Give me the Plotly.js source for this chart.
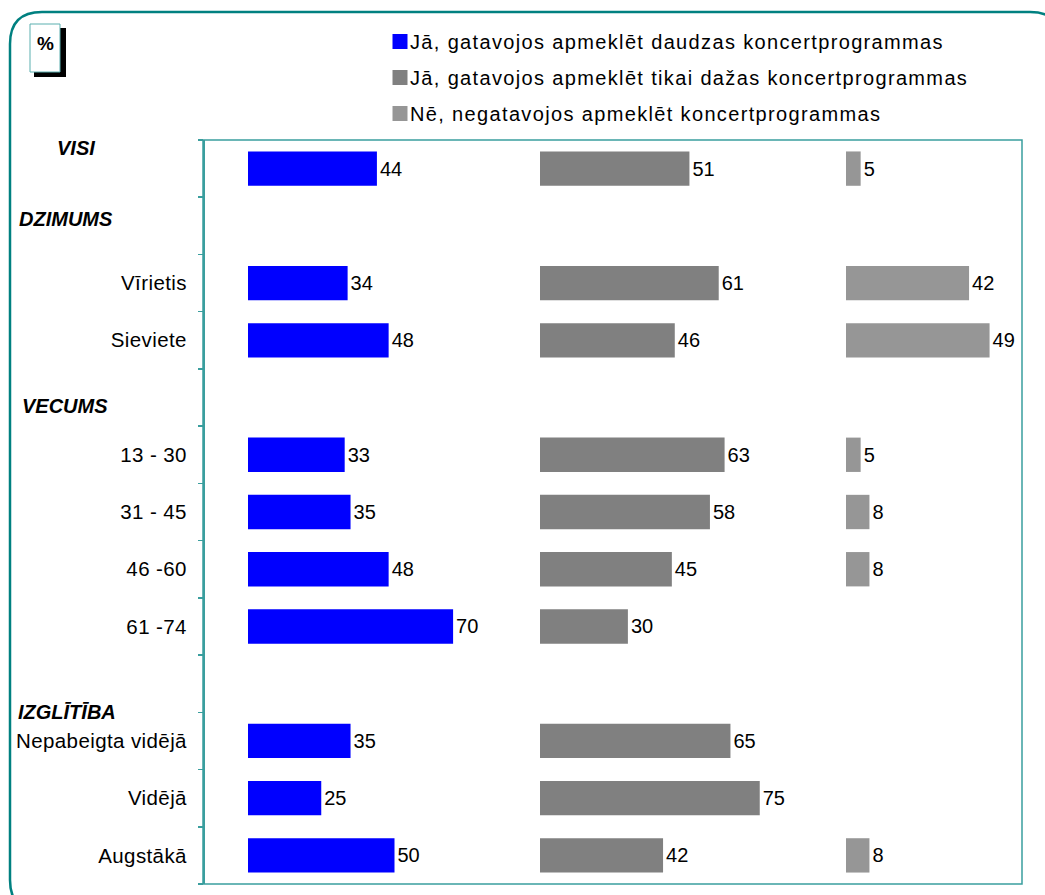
<!DOCTYPE html>
<html>
<head>
<meta charset="utf-8">
<script src="https://cdn.plot.ly/plotly-3.0.1.min.js"></script>
<style>
  html, body { margin: 0; padding: 0; background: #ffffff; }
  #chart { width: 1045px; height: 895px; }
  .legendtext { letter-spacing: 1.35px; }
  .legendpoints path { transform: translate(30px, 0px) scale(1.25); }
  .ytick text { letter-spacing: 0.4px; }
</style>
</head>
<body>
<div id="chart"></div>
<script>
// ---------------- data ----------------
const categories = ['VISI', 'DZIMUMS', 'Vīrietis', 'Sieviete', 'VECUMS', '13 - 30', '31 - 45', '46 -60', '61 -74', 'IZGLĪTĪBA', 'Nepabeigta vidējā', 'Vidējā', 'Augstākā'];
const tickLabels = ['', '', 'Vīrietis', 'Sieviete', '', '13 - 30', '31 - 45', '46 -60', '61 -74', '', 'Nepabeigta vidējā', 'Vidējā', 'Augstākā'];
const headerLabels = ['VISI', 'DZIMUMS', 'VECUMS', 'IZGLĪTĪBA'];
const seriesNames = [
  'Jā, gatavojos apmeklēt daudzas koncertprogrammas',
  'Jā, gatavojos apmeklēt tikai dažas koncertprogrammas',
  'Nē, negatavojos apmeklēt koncertprogrammas'
];
const manyValues = [44, null, 34, 48, null, 33, 35, 48, 70, null, 35, 25, 50];
const fewValues  = [51, null, 61, 46, null, 63, 58, 45, 30, null, 65, 75, 42];
const noneValues = [5, null, 42, 49, null, 5, 8, 8, null, null, null, null, 8];

// ---------------- styles / layout geometry ----------------
const W = 1045, H = 895;
const M = { l: 203, r: 23, t: 140, b: 11 };
const PW = W - M.l - M.r, PH = H - M.t - M.b;
const px = x => (x - M.l) / PW;          // pixel -> paper x
const py = y => (H - M.b - y) / PH;      // pixel -> paper y
const pxPerUnit = 2.93;
const colStarts = [248, 540, 846];
const colRanges = [100, 100, (M.l + PW - 846) / pxPerUnit];
const colors = ['#0000FF', '#808080', '#969696'];
const teal = '#008080';
const frameTeal = '#3A9E9E';
const FONT = 'Liberation Sans, Arial, sans-serif';

const seriesValues = [manyValues, fewValues, noneValues];
const axisIds = ['x', 'x2', 'x3'];

const traces = seriesValues.map((vals, i) => ({
  type: 'bar',
  orientation: 'h',
  name: seriesNames[i],
  x: vals,
  y: categories,
  xaxis: axisIds[i],
  yaxis: 'y',
  marker: { color: colors[i], line: { width: 0 } },
  text: vals.map(v => v === null ? '' : String(v)),
  textposition: 'outside',
  textfont: { family: FONT, size: 20, color: '#000000' },
  cliponaxis: false,
  legendgroup: 'g' + i,
  hoverinfo: 'skip'
}));

function xAxis(i) {
  const start = px(colStarts[i]);
  const end = start + colRanges[i] * pxPerUnit / PW;
  return {
    domain: [start, Math.min(end, 1)],
    range: [0, colRanges[i]],
    visible: false,
    fixedrange: true,
    anchor: 'y'
  };
}

const headerStyle = {
  VISI:      { x: 55, yshift: 21 },
  DZIMUMS:   { x: 17, yshift: 7 },
  VECUMS:    { x: 20, yshift: -8 },
  'IZGLĪTĪBA': { x: 16, yshift: -28 }
};

const annotations = headerLabels.map(h => ({
  xref: 'paper', yref: 'y',
  x: px(headerStyle[h].x), y: h,
  xanchor: 'left', yanchor: 'middle',
  yshift: headerStyle[h].yshift,
  text: '<b><i>' + h + '</i></b>',
  showarrow: false,
  font: { family: FONT, size: 20, color: '#000000' }
}));
annotations.push({
  xref: 'paper', yref: 'paper',
  x: px(45.5), y: py(44),
  xanchor: 'center', yanchor: 'middle',
  text: '<b>%</b>', showarrow: false,
  font: { family: FONT, size: 19, color: '#000000' }
});

// outer rounded border (extends beyond the canvas on the right and bottom)
const oL = 10, oT = 12, oR = 1062, oB = 912, rad = 32;
const outerPath =
  'M ' + px(oL) + ',' + py(oB - rad) +
  ' L ' + px(oL) + ',' + py(oT + rad) +
  ' Q ' + px(oL) + ',' + py(oT) + ' ' + px(oL + rad) + ',' + py(oT) +
  ' L ' + px(oR - rad) + ',' + py(oT) +
  ' Q ' + px(oR) + ',' + py(oT) + ' ' + px(oR) + ',' + py(oT + rad) +
  ' L ' + px(oR) + ',' + py(oB - rad) +
  ' Q ' + px(oR) + ',' + py(oB) + ' ' + px(oR - rad) + ',' + py(oB) +
  ' L ' + px(oL + rad) + ',' + py(oB) +
  ' Q ' + px(oL) + ',' + py(oB) + ' ' + px(oL) + ',' + py(oB - rad) + ' Z';

const shapes = [
  { type: 'path', xref: 'paper', yref: 'paper', path: outerPath,
    line: { color: teal, width: 2.5 }, fillcolor: 'rgba(0,0,0,0)', layer: 'below' },
  { type: 'rect', xref: 'paper', yref: 'paper', x0: 0, x1: 1, y0: 0, y1: 1,
    line: { color: frameTeal, width: 1.5 }, fillcolor: 'rgba(0,0,0,0)', layer: 'above' },
  // "%" box shadow and box
  { type: 'rect', xref: 'paper', yref: 'paper', x0: px(34), x1: px(66), y0: py(77), y1: py(28),
    line: { width: 0 }, fillcolor: '#000000', layer: 'above' },
  { type: 'rect', xref: 'paper', yref: 'paper', x0: px(30), x1: px(60), y0: py(72), y1: py(24),
    line: { color: '#5AAFAF', width: 1 }, fillcolor: '#FFFFFF', layer: 'above' }
];

const layout = {
  width: W, height: H,
  margin: M,
  paper_bgcolor: '#FFFFFF',
  plot_bgcolor: '#FFFFFF',
  font: { family: FONT, size: 20, color: '#000000' },
  barmode: 'overlay',
  bargap: 0.4,
  showlegend: true,
  legend: {
    x: px(370), xanchor: 'left',
    y: py(22), yanchor: 'top',
    traceorder: 'grouped',
    tracegroupgap: 7,
    font: { family: FONT, size: 20, color: '#000000' },
    bgcolor: 'rgba(0,0,0,0)',
    borderwidth: 0
  },
  xaxis: xAxis(0),
  xaxis2: xAxis(1),
  xaxis3: xAxis(2),
  yaxis: {
    type: 'category',
    categoryorder: 'array',
    categoryarray: categories,
    autorange: 'reversed',
    tickmode: 'array',
    tickvals: categories,
    ticktext: tickLabels,
    tickson: 'boundaries',
    ticks: 'outside',
    ticklen: 5,
    tickwidth: 1.5,
    tickcolor: frameTeal,
    ticklabelstandoff: 12,
    showline: true,
    linecolor: frameTeal,
    linewidth: 1.5,
    showgrid: false,
    zeroline: false,
    anchor: 'free',
    position: 0,
    fixedrange: true,
    tickfont: { family: FONT, size: 20.5, color: '#000000' }
  },
  annotations: annotations,
  shapes: shapes
};

Plotly.newPlot('chart', traces, layout, { displayModeBar: false, staticPlot: true });
</script>
</body>
</html>
